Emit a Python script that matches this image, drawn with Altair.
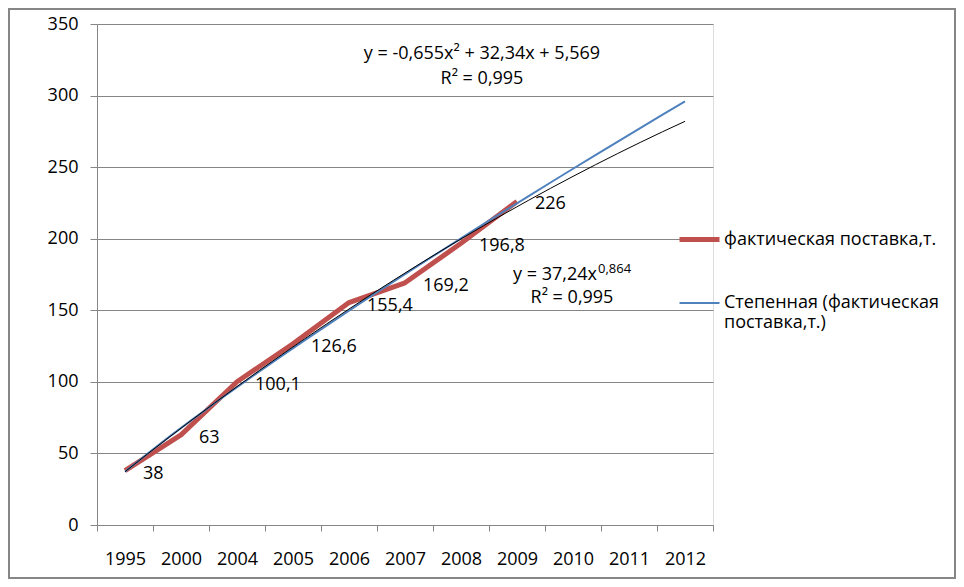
import altair as alt
import pandas as pd

# ---------------- data ----------------
years = ["1995", "2000", "2004", "2005", "2006", "2007", "2008", "2009", "2010", "2011", "2012"]
supply = [38, 63, 100.1, 126.6, 155.4, 169.2, 196.8, 226]
series_actual = "фактическая поставка,т."
series_power = "Степенная (фактическая поставка,т.)"
power_legend_lines = ["Степенная (фактическая", "поставка,т.)"]
y_ticks = [0, 50, 100, 150, 200, 250, 300, 350]
poly_eq = ["y = -0,655x² + 32,34x + 5,569"]
pow_eq = ["y = 37,24x"]
pow_exp = ["0,864"]
r2_text = ["R² = 0,995"]

# ---------------- style ----------------
FONT = "Open Sans"
RED = "#C0504D"
BLUE = "#4F81BD"
GRAY = "#868686"
W, H = 616, 501

df = pd.DataFrame({
    "idx": list(range(1, len(supply) + 1)),
    "value": supply,
    "label": [f"{v:g}".replace(".", ",") for v in supply],
    "series": series_actual,
})

n = len(years)
x_scale = alt.Scale(domain=[0.5, n + 0.5], nice=False, zero=False)
y_scale = alt.Scale(domain=[y_ticks[0], y_ticks[-1]], nice=False)

year_arr = "[" + ",".join(f"'{y}'" for y in years) + "]"
x_axis = alt.Axis(
    values=[i / 2 for i in range(1, 2 * n + 2)],
    labelExpr=f"datum.value % 1 == 0 ? {year_arr}[datum.value - 1] : ''",
    tickOpacity={"condition": {"test": "datum.value % 1 != 0", "value": 1}, "value": 0},
    grid=False, tickSize=6, tickColor=GRAY, domainColor=GRAY,
    labelFont=FONT, labelFontSize=18, labelColor="black", labelPadding=19,
    labelOverlap=False, labelFlush=False, title=None,
)
y_axis = alt.Axis(
    values=y_ticks, grid=True, gridColor=GRAY, tickSize=7, tickColor=GRAY,
    domainColor=GRAY, labelFont=FONT, labelFontSize=18, labelColor="black",
    labelPadding=12, title=None,
)

legend_expr = (
    f"datum.label == '{series_power}' ? ['{power_legend_lines[0]}', '{power_legend_lines[1]}'] : datum.label"
)
legend = alt.Legend(
    orient="none", legendX=580, legendY=193, title=None, symbolType="stroke",
    symbolSize=1600, labelFont=FONT, labelFontSize=18, labelColor="black",
    labelLimit=400, labelExpr=legend_expr, padding=0, rowPadding=32, labelOffset=2,
)

color_scale = alt.Scale(domain=[series_actual, series_power], range=[RED, BLUE])
sw_scale = alt.Scale(domain=[series_actual, series_power], range=[5, 2])

X = alt.X("idx:Q", scale=x_scale, axis=x_axis)
Y = alt.Y("value:Q", scale=y_scale, axis=y_axis)
base = alt.Chart(df)

actual = base.mark_line(strokeJoin="round").encode(
    x=X, y=Y,
    color=alt.Color("series:N", scale=color_scale, legend=legend),
    strokeWidth=alt.StrokeWidth("series:N", scale=sw_scale, legend=legend),
)
power = base.transform_regression(
    "idx", "value", method="pow", extent=[1, n]
).transform_calculate(series=f"'{series_power}'").mark_line().encode(
    x=X, y=Y,
    color=alt.Color("series:N", scale=color_scale, legend=legend),
    strokeWidth=alt.StrokeWidth("series:N", scale=sw_scale, legend=legend),
)
poly = base.transform_regression(
    "idx", "value", method="poly", order=2, extent=[1, n]
).mark_line(color="black", strokeWidth=1).encode(x=X, y=Y)

labels = base.mark_text(
    align="left", baseline="middle", dx=18, dy=3, font=FONT, fontSize=18, color="black"
).encode(x=X, y=Y, text="label:N")


def note(texts, x, y, size=18, align="center"):
    return alt.Chart(pd.DataFrame({"t": texts})).mark_text(
        align=align, baseline="middle", font=FONT, fontSize=size, color="black"
    ).encode(x=alt.value(x), y=alt.value(y), text="t:N")


notes = [
    note(poly_eq, 385, 30),
    note(r2_text, 385, 55),
    note(pow_eq, 500, 251, align="right"),
    note(pow_exp, 501, 245, size=13, align="left"),
    note(r2_text, 475, 274),
]

border = alt.Chart(pd.DataFrame({"k": [0]})).mark_rect(
    fillOpacity=0, stroke=GRAY, strokeWidth=2
).encode(x=alt.value(-88), x2=alt.value(858), y=alt.value(-15), y2=alt.value(554))

chart = alt.layer(actual, power, poly, labels, *notes, border).properties(
    width=W, height=H,
    autosize=alt.AutoSizeParams(type="none"),
    padding={"left": 89, "top": 16, "right": 243, "bottom": 54},
).configure_view(stroke=None).configure(background="white")

chart.save("out.html", embed_options={"renderer": "svg", "actions": False})
